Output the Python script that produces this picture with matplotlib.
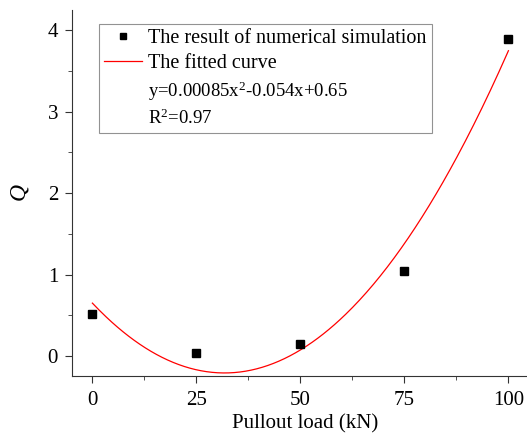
import matplotlib.pyplot as plt
import numpy as np
from matplotlib.lines import Line2D
from matplotlib.ticker import MultipleLocator

plt.rcParams['font.family'] = ['Liberation Serif', 'DejaVu Serif']
plt.rcParams['mathtext.fontset'] = 'custom'
plt.rcParams['mathtext.rm'] = 'Liberation Serif'
plt.rcParams['mathtext.it'] = 'Liberation Serif:italic'

load = [0, 25, 50, 75, 100]
q_sim = [0.52, 0.04, 0.15, 1.04, 3.89]
fit_coef = [0.00085, -0.054, 0.65]

fig = plt.figure(figsize=(5.27, 4.34), dpi=100)
ax = fig.add_axes([72 / 527, 1 - 376 / 434, 1 - 72 / 527 + 0.02, (376 - 10) / 434])

x = np.linspace(0, 100, 300)
ax.plot(x, np.polyval(fit_coef, x), color='red', lw=0.9)
ax.plot(load, q_sim, 's', color='black', ms=6, ls='none')

ax.set_xlim(-4.9, 107)
ax.set_ylim(-0.245, 4.25)
ax.xaxis.set_major_locator(MultipleLocator(25))
ax.xaxis.set_minor_locator(MultipleLocator(12.5))
ax.yaxis.set_major_locator(MultipleLocator(1))
ax.yaxis.set_minor_locator(MultipleLocator(0.5))
ax.tick_params(which='both', direction='out', labelsize=15, colors='#333333', labelcolor='black')
ax.tick_params(which='major', length=5, pad=5)
ax.tick_params(axis='x', which='major', pad=6)
ax.tick_params(which='minor', length=3)
for s in ['top', 'right']:
    ax.spines[s].set_visible(False)
for s in ['left', 'bottom']:
    ax.spines[s].set_color('#333333')

ax.set_xlabel('Pullout load (kN)', fontsize=15, labelpad=3)
ax.set_ylabel('$Q$', fontsize=17, labelpad=12)

handles = [
    Line2D([], [], marker='s', color='black', ls='none', ms=4.5),
    Line2D([], [], color='red', lw=0.9),
    Line2D([], [], alpha=0),
    Line2D([], [], alpha=0),
]
labels = ['The result of numerical simulation', 'The fitted curve',
          'y=0.00085x$^2$-0.054x+0.65', 'R$^2$=0.97']
leg = ax.legend(handles, labels, loc='upper left', bbox_to_anchor=(0.058, 0.962),
                fontsize=14.5, frameon=True, fancybox=False, edgecolor='#777777',
                handlelength=1.9, handletextpad=0.3, labelspacing=0.3,
                borderpad=0.25, borderaxespad=0)
leg.get_frame().set_linewidth(0.8)
for t in leg.get_texts()[2:]:
    t.set_fontsize(13.5)

fig.savefig('out.png', dpi=100)
